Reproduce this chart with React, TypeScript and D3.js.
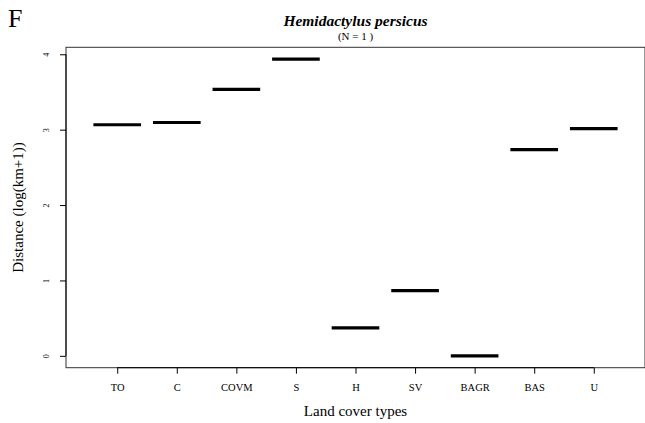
import React, { useEffect, useRef } from "react";
import * as d3 from "d3";

// Land cover categories and per-category distance (log(km+1)), N = 1
const categories = ["TO", "C", "COVM", "S", "H", "SV", "BAGR", "BAS", "U"];
const distances = [3.065, 3.095, 3.535, 3.935, 0.372, 0.864, 0.0, 2.735, 3.015];
const yTicks = [0, 1, 2, 3, 4];

const DistanceChart: React.FC = () => {
  const chartRef = useRef<SVGSVGElement>(null);

  useEffect(() => {
    if (!chartRef.current) return;
    const svg = d3.select(chartRef.current);
    svg.selectAll("*").remove();

    const width = 645;
    const height = 423;
    const plot = { left: 66, right: 645, top: 47.3, bottom: 367.7 };
    const font = "'Liberation Serif', 'Times New Roman', serif";

    // R-style axis extension (4% each side)
    const n = categories.length;
    const xPad = n * 0.04;
    const x = d3
      .scaleLinear()
      .domain([0.5 - xPad, n + 0.5 + xPad])
      .range([plot.left, plot.right]);

    const yMax = d3.max(distances) || 0;
    const yMin = d3.min(distances) || 0;
    const yPad = (yMax - yMin) * 0.04;
    const y = d3
      .scaleLinear()
      .domain([yMin - yPad, yMax + yPad])
      .range([plot.bottom, plot.top]);

    svg.attr("width", width).attr("height", height);
    svg.append("rect").attr("width", width).attr("height", height).attr("fill", "#fff");

    // Frame
    svg
      .append("rect")
      .attr("x", plot.left)
      .attr("y", plot.top)
      .attr("width", plot.right - plot.left)
      .attr("height", plot.bottom - plot.top)
      .attr("fill", "none")
      .attr("stroke", "#333")
      .attr("stroke-width", 1);

    // Y axis
    const yAxis = svg
      .append("g")
      .attr("transform", `translate(${plot.left},0)`)
      .call(
        d3
          .axisLeft(y)
          .tickValues(yTicks)
          .tickSize(6)
          .tickSizeOuter(0)
          .tickPadding(10)
          .tickFormat(d3.format("d"))
      );
    yAxis.select(".domain").remove();
    yAxis
      .append("line")
      .attr("y1", y(yTicks[0]))
      .attr("y2", y(yTicks[yTicks.length - 1]))
      .attr("stroke", "#000");
    yAxis.selectAll(".tick line").attr("stroke", "#000");
    yAxis
      .selectAll<SVGTextElement, number>(".tick text")
      .attr("x", null)
      .attr("text-anchor", "middle")
      .attr("transform", "translate(-20,0) rotate(-90)")
      .attr("dy", "0.35em")
      .style("font-family", font)
      .style("font-size", "8px")
      .style("fill", "#000");

    // X axis
    const xAxis = svg
      .append("g")
      .attr("transform", `translate(0,${plot.bottom})`)
      .call(
        d3
          .axisBottom(x)
          .tickValues(d3.range(1, n + 1))
          .tickSize(6)
          .tickSizeOuter(0)
          .tickPadding(10)
          .tickFormat((d) => categories[(d as number) - 1])
      );
    xAxis.select(".domain").remove();
    xAxis
      .append("line")
      .attr("x1", x(1))
      .attr("x2", x(n))
      .attr("stroke", "#000");
    xAxis.selectAll(".tick line").attr("stroke", "#000");
    xAxis
      .selectAll(".tick text")
      .style("font-family", font)
      .style("font-size", "10.5px")
      .style("fill", "#000");

    // Single-observation boxplots: median lines
    svg
      .selectAll(".median")
      .data(distances)
      .enter()
      .append("line")
      .attr("class", "median")
      .attr("x1", (_, i) => x(i + 1 - 0.4))
      .attr("x2", (_, i) => x(i + 1 + 0.4))
      .attr("y1", (d) => y(d))
      .attr("y2", (d) => y(d))
      .attr("stroke", "#000")
      .attr("stroke-width", 3.2);

    // Titles
    const cx = (plot.left + plot.right) / 2;
    svg
      .append("text")
      .attr("x", cx)
      .attr("y", 26)
      .attr("text-anchor", "middle")
      .style("font-family", font)
      .style("font-size", "15.5px")
      .style("font-weight", "bold")
      .style("font-style", "italic")
      .text("Hemidactylus persicus");
    svg
      .append("text")
      .attr("x", cx)
      .attr("y", 40)
      .attr("text-anchor", "middle")
      .style("font-family", font)
      .style("font-size", "11px")
      .text("(N = 1 )");

    svg
      .append("text")
      .attr("x", cx)
      .attr("y", 416)
      .attr("text-anchor", "middle")
      .style("font-family", font)
      .style("font-size", "15px")
      .text("Land cover types");

    svg
      .append("text")
      .attr("transform", `translate(23,${(plot.top + plot.bottom) / 2}) rotate(-90)`)
      .attr("text-anchor", "middle")
      .style("font-family", font)
      .style("font-size", "15px")
      .text("Distance (log(km+1))");

    // Panel letter
    svg
      .append("text")
      .attr("x", 8)
      .attr("y", 27)
      .style("font-family", font)
      .style("font-size", "26px")
      .text("F");
  }, []);

  return <svg ref={chartRef} style={{ position: "fixed", top: 0, left: 0, display: "block" }}></svg>;
};

export default function App() {
  return <DistanceChart />;
}
